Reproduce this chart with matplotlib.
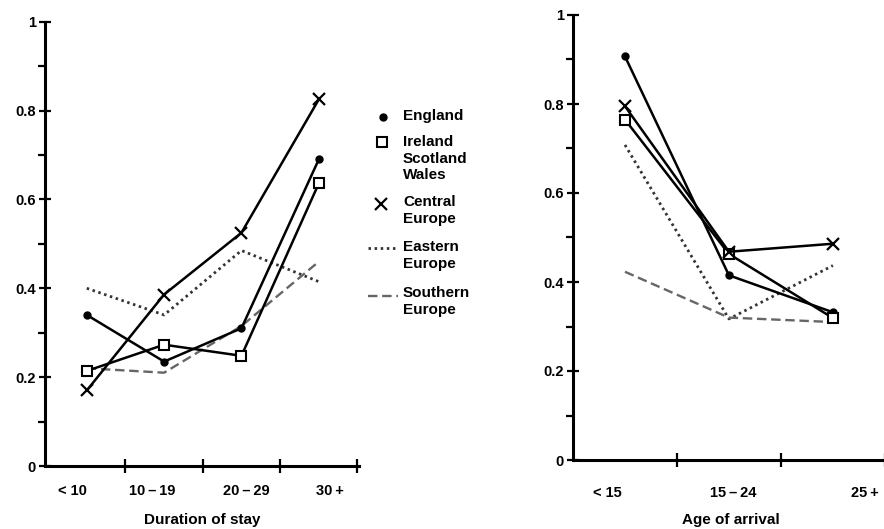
import numpy as np
import matplotlib
matplotlib.use('Agg')
import matplotlib.pyplot as plt

plt.rcParams['font.family'] = ['Liberation Sans', 'DejaVu Sans']
plt.rcParams['font.weight'] = 'bold'

# data
stay_cats = ['< 10', '10\u2009\u2013\u200919', '20\u2009\u2013\u200929', '30\u2009+']
age_cats = ['< 15', '15\u2009\u2013\u200924', '25\u2009+']

stay_england = [0.34, 0.235, 0.31, 0.69]
stay_irl_sco_wal = [0.214, 0.273, 0.248, 0.636]
stay_central = [0.17, 0.386, 0.525, 0.825]
stay_eastern = [0.40, 0.34, 0.485, 0.415]
stay_southern = [0.22, 0.21, 0.315, 0.46]

age_england = [0.907, 0.415, 0.332]
age_irl_sco_wal = [0.765, 0.463, 0.319]
age_central = [0.795, 0.468, 0.486]
age_eastern = [0.708, 0.317, 0.437]
age_southern = [0.423, 0.32, 0.31]

# where the category labels sit (they are not centred under the points)
stay_label_x = [-0.18, 0.85, 2.06, 3.14]
age_label_x = [-0.17, 1.04, 2.31]

styles = {
    'england': dict(color='black', lw=1.8, marker='o', ms=5, mfc='black'),
    'isw': dict(color='black', lw=1.8, marker='s', ms=7, mfc='white', mew=1.5),
    'central': dict(color='black', lw=1.8, marker='x', ms=8, mew=1.6),
    'eastern': dict(color='#333333', lw=2.0, ls=(0, (0.9, 1.3))),
    'southern': dict(color='#666666', lw=1.7, ls=(0, (4, 2))),
}

W, H = 884, 529
fig = plt.figure(figsize=(W / 100, H / 100), dpi=100)


def setup(ax, cats, label_x, xlabel, xlim, tickpad, labelpad):
    for s in ['top', 'right']:
        ax.spines[s].set_visible(False)
    for s in ['left', 'bottom']:
        ax.spines[s].set_linewidth(2.2)
    ax.set_ylim(0, 1)
    ax.set_xlim(*xlim)
    ax.set_yticks(np.arange(0, 1.01, 0.2))
    ax.set_yticklabels(['0', '0.2', '0.4', '0.6', '0.8', '1'])
    ax.set_yticks(np.arange(0.1, 1.0, 0.2), minor=True)
    ax.tick_params(axis='y', which='major', direction='inout', length=9, width=1.6,
                   labelsize=10.5, pad=2)
    ax.tick_params(axis='y', which='minor', direction='out', length=5, width=1.6)
    ax.set_xticks(np.arange(0.5, len(cats) - 0.4, 1.0))
    ax.set_xticklabels([])
    ax.tick_params(axis='x', which='major', direction='inout', length=10, width=1.6)
    ax.set_xticks(label_x, minor=True)
    ax.set_xticklabels(cats, minor=True)
    ax.tick_params(axis='x', which='minor', length=0, labelsize=10.5, pad=tickpad)
    ax.set_xlabel(xlabel, fontsize=11, fontweight='bold', labelpad=labelpad)
    for lab in ax.get_xticklabels(minor=True) + ax.get_yticklabels():
        lab.set_fontweight('bold')


# left panel: duration of stay
ax1 = fig.add_axes([45 / W, 63 / H, 314 / W, 444.3 / H])
x1 = np.arange(len(stay_cats))
ax1.plot(x1, stay_eastern, **styles['eastern'])
ax1.plot(x1, stay_southern, **styles['southern'])
ax1.plot(x1, stay_england, **styles['england'])
ax1.plot(x1, stay_irl_sco_wal, **styles['isw'])
ax1.plot(x1, stay_central, **styles['central'])
setup(ax1, stay_cats, stay_label_x, 'Duration of stay', (-0.54, 3.52), 13, 11)

# right panel: age of arrival
ax2 = fig.add_axes([573 / W, 69 / H, 315 / W, 445 / H])
x2 = np.arange(len(age_cats))
ax2.plot(x2, age_eastern, **styles['eastern'])
ax2.plot(x2, age_southern, **styles['southern'])
ax2.plot(x2, age_england, **styles['england'])
ax2.plot(x2, age_irl_sco_wal, **styles['isw'])
ax2.plot(x2, age_central, **styles['central'])
setup(ax2, age_cats, age_label_x, 'Age of arrival', (-0.5, 2.53), 19, 9)

# legend drawn in pixel space between the panels
lg = fig.add_axes([0, 0, 1, 1])
lg.set_xlim(0, W)
lg.set_ylim(H, 0)
lg.axis('off')
lg.patch.set_alpha(0)
lg.plot([383], [117], **{k: v for k, v in styles['england'].items() if k != 'lw'})
lg.plot([382], [142], **{k: v for k, v in styles['isw'].items() if k != 'lw'})
lg.plot([381], [204], **{k: v for k, v in styles['central'].items() if k != 'lw'})
lg.plot([368, 398], [248, 248], **styles['eastern'])
lg.plot([368, 398], [296, 296], **styles['southern'])
legend_labels = ['England', 'Ireland\nScotland\nWales', 'Central\nEurope',
                 'Eastern\nEurope', 'Southern\nEurope']
legend_top = [109, 135, 195, 240, 286]
for lab, ty in zip(legend_labels, legend_top):
    lg.text(403, ty, lab, fontsize=11, fontweight='bold', va='top', ha='left',
            linespacing=1.24)

fig.savefig('out.png', dpi=100)
